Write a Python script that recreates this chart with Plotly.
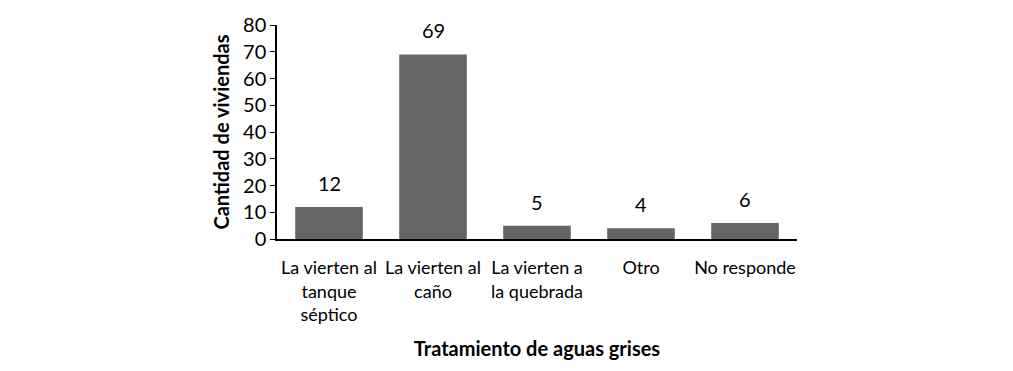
import plotly.graph_objects as go

categories = ["La vierten al<br>tanque<br>séptico", "La vierten al<br>caño",
              "La vierten a<br>la quebrada", "Otro", "No responde"]
values = [12, 69, 5, 4, 6]
y_ticks = [0, 10, 20, 30, 40, 50, 60, 70, 80]

FONT = "Lato, Open Sans, sans-serif"

fig = go.Figure(go.Bar(
    x=categories, y=values,
    marker=dict(color="#666666", line=dict(width=0)),
    width=0.65,
))

for c, v in zip(categories, values):
    fig.add_annotation(x=c, y=v, text=str(v), showarrow=False,
                       yanchor="bottom", yshift=10,
                       font=dict(size=20, color="#000000", family=FONT))

fig.update_layout(
    width=1013, height=371,
    margin=dict(l=277, r=216, t=22, b=132),
    plot_bgcolor="white", paper_bgcolor="white",
    showlegend=False,
    font=dict(family=FONT, color="#000000"),
)
fig.update_xaxes(
    showline=True, linecolor="#000000", linewidth=1.5,
    showgrid=False, ticks="", tickfont=dict(size=18), ticklabelstandoff=12,
    title=dict(text="<b>Tratamiento de aguas grises</b>", font=dict(size=20), standoff=18),
)
fig.update_yaxes(
    range=[0, 80], tickvals=y_ticks, showline=True, linecolor="#000000", linewidth=1.5,
    showgrid=False, ticks="outside", ticklen=5, tickcolor="#000000",
    tickfont=dict(size=20),
    title=dict(text="<b>Cantidad de viviendas</b>", font=dict(size=20), standoff=8),
    zeroline=False,
)

fig.write_html("out.html")
